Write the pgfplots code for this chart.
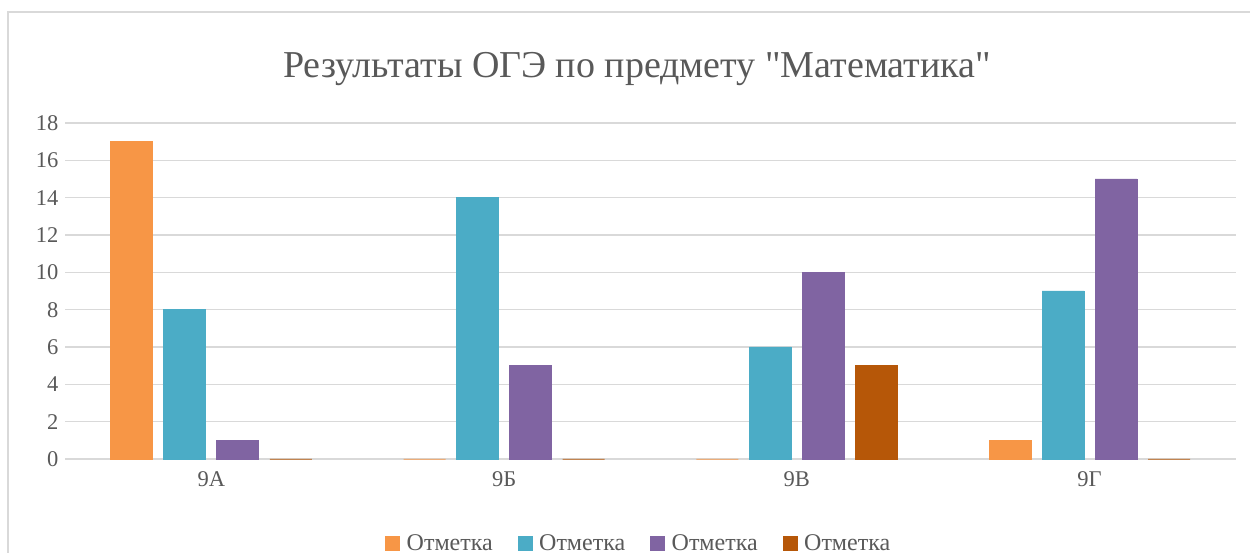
\documentclass[border=0pt]{standalone}
\usepackage{fontspec}
\setmainfont[Ligatures=TeXOff]{Liberation Serif}
\usepackage{pgfplots}
\pgfplotsset{compat=1.18}
\definecolor{cA}{HTML}{F79646}
\definecolor{cB}{HTML}{4BACC6}
\definecolor{cC}{HTML}{8064A2}
\definecolor{cD}{HTML}{B65708}
\definecolor{gridc}{HTML}{D9D9D9}
\definecolor{txt}{HTML}{595959}
\begin{document}
\begin{tikzpicture}
\useasboundingbox (0pt,0pt) rectangle (1250pt,553pt);
\draw[gridc, line width=1.5pt] (8pt,0pt) -- (8pt,541pt) -- (1250pt,541pt);
\node[txt, font=\fontsize{38}{42}\selectfont] at (637pt,484pt) {Результаты ОГЭ по предмету "Математика"};
\begin{axis}[
  at={(65pt,94pt)}, anchor=south west,
  scale only axis, width=1171pt, height=336pt,
  ybar=0pt, bar width=0.1435,
  xmin=-0.5, xmax=3.5, ymin=0, ymax=18,
  ytick={0,2,...,18},
  xtick={0,1,2,3}, xticklabels={9А,9Б,9В,9Г},
  major tick length=0pt,
  axis line style={draw=none},
  ymajorgrids, grid style={gridc, line width=1.5pt},
  tick label style={txt, font=\fontsize{22.5}{26}\selectfont},
  /pgf/number format/assume math mode=true,
  yticklabel style={xshift=-3pt},
  xticklabel style={yshift=-9pt},
  legend columns=4,
  legend style={at={(0.49,-0.25)}, anchor=center, draw=none, fill=none,
    font=\fontsize{24}{28}\selectfont, text=txt,
    /tikz/every even column/.append style={column sep=23pt}},
  legend image code/.code={\fill (0pt,-7pt) rectangle (14pt,7pt); \path[draw=none,fill=none] (0pt,0pt) rectangle (19pt,0.1pt);},
  clip=false,
]
\addplot[draw=cA, fill=cA, line width=0.8pt, bar shift=-0.2715] coordinates {(0,17) (1,0) (2,0) (3,1)};
\addplot[draw=cB, fill=cB, line width=0.8pt, bar shift=-0.0905] coordinates {(0,8) (1,14) (2,6) (3,9)};
\addplot[draw=cC, fill=cC, line width=0.8pt, bar shift=0.0905] coordinates {(0,1) (1,5) (2,10) (3,15)};
\addplot[draw=cD, fill=cD, line width=0.8pt, bar shift=0.2715] coordinates {(0,0) (1,0) (2,5) (3,0)};
\legend{Отметка,Отметка,Отметка,Отметка}
\end{axis}
\end{tikzpicture}
\end{document}
